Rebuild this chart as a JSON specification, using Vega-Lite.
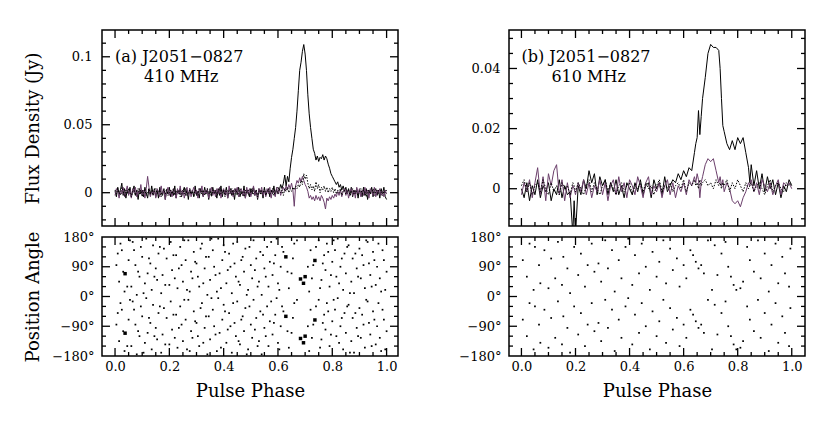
{
  "$schema": "https://vega.github.io/schema/vega-lite/v6.json",
  "background": "white",
  "padding": {"left": 23, "top": 28, "right": 10, "bottom": 10},
  "config": {
    "view": {"stroke": "black", "strokeWidth": 1.5},
    "axis": {
      "domain": false,
      "grid": false,
      "ticks": false,
      "labelFont": "DejaVu Serif",
      "labelFontSize": 13,
      "labelColor": "black",
      "titleFont": "DejaVu Serif",
      "titleFontSize": 18,
      "titleFontWeight": "normal",
      "titleColor": "black",
      "labelFlush": false,
      "labelOverlap": false
    }
  },
  "datasets": {
    "A": [
      {"p":0.000,"I":0.001,"L":-0.002,"V":0.002},{"p":0.005,"I":-0.003,"L":0.003,"V":-0.001},{"p":0.010,"I":0.004,"L":0.001,"V":0.003},{"p":0.015,"I":-0.001,"L":-0.004,"V":0.000},
      {"p":0.020,"I":0.002,"L":0.002,"V":-0.002},{"p":0.025,"I":0.007,"L":-0.001,"V":0.004},{"p":0.030,"I":-0.002,"L":0.004,"V":0.001},{"p":0.035,"I":0.003,"L":-0.003,"V":-0.002},
      {"p":0.040,"I":-0.004,"L":0.001,"V":0.002},{"p":0.045,"I":0.002,"L":0.005,"V":-0.001},{"p":0.050,"I":-0.001,"L":-0.002,"V":0.003},{"p":0.055,"I":0.004,"L":0.002,"V":0.000},
      {"p":0.060,"I":-0.003,"L":-0.004,"V":-0.003},{"p":0.065,"I":0.001,"L":0.003,"V":0.001},{"p":0.070,"I":0.005,"L":0.000,"V":0.002},{"p":0.075,"I":-0.002,"L":0.004,"V":-0.002},
      {"p":0.080,"I":0.002,"L":-0.003,"V":0.001},{"p":0.085,"I":-0.005,"L":0.001,"V":0.003},{"p":0.090,"I":0.003,"L":-0.001,"V":-0.001},{"p":0.095,"I":-0.001,"L":0.006,"V":0.002},
      {"p":0.100,"I":0.002,"L":-0.002,"V":-0.003},{"p":0.105,"I":-0.003,"L":0.002,"V":0.001},{"p":0.110,"I":0.004,"L":-0.004,"V":0.002},{"p":0.115,"I":0.000,"L":0.003,"V":-0.002},
      {"p":0.120,"I":-0.004,"L":0.012,"V":0.000},{"p":0.125,"I":0.003,"L":0.004,"V":0.003},{"p":0.130,"I":-0.002,"L":-0.003,"V":-0.001},{"p":0.135,"I":0.005,"L":0.001,"V":0.002},
      {"p":0.140,"I":-0.001,"L":-0.002,"V":-0.002},{"p":0.145,"I":0.003,"L":0.002,"V":0.001},{"p":0.150,"I":-0.003,"L":-0.004,"V":0.003},{"p":0.155,"I":0.002,"L":0.003,"V":-0.001},
      {"p":0.160,"I":-0.004,"L":0.001,"V":0.000},{"p":0.165,"I":0.004,"L":-0.003,"V":0.002},{"p":0.170,"I":0.000,"L":0.005,"V":-0.003},{"p":0.175,"I":-0.002,"L":-0.001,"V":0.001},
      {"p":0.180,"I":0.003,"L":0.002,"V":0.002},{"p":0.185,"I":-0.005,"L":-0.005,"V":-0.001},{"p":0.190,"I":0.002,"L":0.001,"V":0.003},{"p":0.195,"I":-0.001,"L":0.004,"V":-0.002},
      {"p":0.200,"I":0.004,"L":-0.002,"V":0.000},{"p":0.205,"I":-0.003,"L":0.002,"V":0.002},{"p":0.210,"I":0.001,"L":-0.003,"V":-0.001},{"p":0.215,"I":-0.002,"L":0.003,"V":0.003},
      {"p":0.220,"I":0.005,"L":0.000,"V":-0.002},{"p":0.225,"I":-0.004,"L":-0.004,"V":0.001},{"p":0.230,"I":0.002,"L":0.003,"V":0.000},{"p":0.235,"I":-0.001,"L":-0.001,"V":0.002},
      {"p":0.240,"I":0.003,"L":0.005,"V":-0.003},{"p":0.245,"I":-0.003,"L":-0.002,"V":0.001},{"p":0.250,"I":0.001,"L":0.002,"V":0.002},{"p":0.255,"I":0.004,"L":-0.004,"V":-0.001},
      {"p":0.260,"I":-0.002,"L":0.001,"V":0.003},{"p":0.265,"I":0.002,"L":0.004,"V":-0.002},{"p":0.270,"I":-0.005,"L":-0.002,"V":0.000},{"p":0.275,"I":0.003,"L":0.003,"V":0.002},
      {"p":0.280,"I":-0.001,"L":-0.003,"V":-0.001},{"p":0.285,"I":0.002,"L":0.001,"V":0.001},{"p":0.290,"I":-0.003,"L":0.004,"V":-0.003},{"p":0.295,"I":0.005,"L":-0.001,"V":0.002},
      {"p":0.300,"I":-0.002,"L":0.002,"V":0.000},{"p":0.305,"I":0.001,"L":-0.004,"V":-0.002},{"p":0.310,"I":-0.004,"L":0.003,"V":0.003},{"p":0.315,"I":0.003,"L":0.000,"V":0.001},
      {"p":0.320,"I":0.000,"L":0.005,"V":-0.001},{"p":0.325,"I":-0.003,"L":-0.003,"V":0.002},{"p":0.330,"I":0.004,"L":0.002,"V":-0.002},{"p":0.335,"I":-0.001,"L":-0.001,"V":0.000},
      {"p":0.340,"I":0.002,"L":0.003,"V":0.003},{"p":0.345,"I":-0.005,"L":-0.004,"V":-0.001},{"p":0.350,"I":0.003,"L":0.001,"V":0.001},{"p":0.355,"I":-0.002,"L":0.004,"V":-0.003},
      {"p":0.360,"I":0.004,"L":-0.002,"V":0.002},{"p":0.365,"I":-0.001,"L":0.002,"V":0.000},{"p":0.370,"I":0.001,"L":-0.003,"V":0.002},{"p":0.375,"I":-0.004,"L":0.003,"V":-0.002},
      {"p":0.380,"I":0.003,"L":-0.001,"V":0.001},{"p":0.385,"I":-0.002,"L":0.004,"V":0.003},{"p":0.390,"I":0.005,"L":-0.004,"V":-0.001},{"p":0.395,"I":-0.003,"L":0.001,"V":0.000},
      {"p":0.400,"I":0.002,"L":0.003,"V":0.002},{"p":0.405,"I":-0.001,"L":-0.002,"V":-0.003},{"p":0.410,"I":0.004,"L":0.002,"V":0.001},{"p":0.415,"I":-0.004,"L":-0.004,"V":0.002},
      {"p":0.420,"I":0.001,"L":0.005,"V":-0.001},{"p":0.425,"I":0.003,"L":-0.001,"V":0.000},{"p":0.430,"I":-0.002,"L":0.002,"V":0.003},{"p":0.435,"I":0.002,"L":-0.003,"V":-0.002},
      {"p":0.440,"I":-0.005,"L":0.003,"V":0.001},{"p":0.445,"I":0.003,"L":0.000,"V":0.002},{"p":0.450,"I":-0.001,"L":0.004,"V":-0.002},{"p":0.455,"I":0.004,"L":-0.003,"V":0.000},
      {"p":0.460,"I":-0.003,"L":0.001,"V":0.003},{"p":0.465,"I":0.001,"L":0.003,"V":-0.001},{"p":0.470,"I":-0.002,"L":-0.002,"V":0.001},{"p":0.475,"I":0.005,"L":0.002,"V":-0.003},
      {"p":0.480,"I":-0.004,"L":-0.004,"V":0.002},{"p":0.485,"I":0.002,"L":0.004,"V":0.000},{"p":0.490,"I":0.000,"L":-0.001,"V":0.002},{"p":0.495,"I":-0.003,"L":0.003,"V":-0.002},
      {"p":0.500,"I":0.003,"L":-0.003,"V":0.001},{"p":0.505,"I":-0.001,"L":0.001,"V":0.003},{"p":0.510,"I":0.004,"L":0.005,"V":-0.001},{"p":0.515,"I":-0.002,"L":-0.002,"V":0.000},
      {"p":0.520,"I":0.002,"L":0.002,"V":0.002},{"p":0.525,"I":-0.005,"L":-0.004,"V":-0.003},{"p":0.530,"I":0.003,"L":0.003,"V":0.001},{"p":0.535,"I":-0.001,"L":0.000,"V":0.002},
      {"p":0.540,"I":0.002,"L":0.004,"V":-0.001},{"p":0.545,"I":-0.004,"L":-0.002,"V":0.000},{"p":0.550,"I":0.004,"L":0.002,"V":0.003},{"p":0.555,"I":-0.002,"L":-0.003,"V":-0.002},
      {"p":0.560,"I":0.001,"L":0.003,"V":0.001},{"p":0.565,"I":0.003,"L":-0.001,"V":0.002},{"p":0.570,"I":-0.003,"L":0.004,"V":-0.001},{"p":0.575,"I":0.002,"L":-0.004,"V":0.000},
      {"p":0.580,"I":-0.001,"L":0.002,"V":0.003},{"p":0.585,"I":0.005,"L":0.001,"V":-0.002},{"p":0.590,"I":-0.002,"L":-0.003,"V":0.001},{"p":0.595,"I":0.003,"L":0.004,"V":0.002},
      {"p":0.600,"I":0.004,"L":-0.001,"V":-0.001},{"p":0.605,"I":0.002,"L":0.003,"V":0.003},{"p":0.610,"I":0.006,"L":-0.002,"V":0.000},{"p":0.615,"I":0.003,"L":0.002,"V":0.002},
      {"p":0.620,"I":0.007,"L":0.004,"V":-0.002},{"p":0.625,"I":0.013,"L":0.001,"V":0.003},{"p":0.630,"I":0.005,"L":0.005,"V":0.001},{"p":0.635,"I":0.012,"L":0.002,"V":0.004},
      {"p":0.640,"I":0.008,"L":0.006,"V":0.000},{"p":0.645,"I":0.018,"L":0.003,"V":0.003},{"p":0.650,"I":0.026,"L":0.007,"V":0.001},{"p":0.655,"I":0.032,"L":0.002,"V":0.004},
      {"p":0.660,"I":0.040,"L":-0.010,"V":0.002},{"p":0.665,"I":0.048,"L":0.005,"V":0.005},{"p":0.670,"I":0.060,"L":0.009,"V":0.003},{"p":0.675,"I":0.075,"L":0.007,"V":0.006},
      {"p":0.680,"I":0.090,"L":0.011,"V":0.004},{"p":0.685,"I":0.096,"L":0.008,"V":0.009},{"p":0.690,"I":0.104,"L":0.012,"V":0.006},{"p":0.695,"I":0.109,"L":0.009,"V":0.014},
      {"p":0.700,"I":0.102,"L":0.006,"V":0.010},{"p":0.705,"I":0.090,"L":0.004,"V":0.013},{"p":0.710,"I":0.072,"L":0.001,"V":0.007},{"p":0.715,"I":0.058,"L":-0.004,"V":0.003},
      {"p":0.720,"I":0.048,"L":-0.002,"V":0.006},{"p":0.725,"I":0.040,"L":-0.005,"V":0.002},{"p":0.730,"I":0.032,"L":-0.003,"V":0.005},{"p":0.735,"I":0.029,"L":-0.006,"V":0.001},
      {"p":0.740,"I":0.024,"L":-0.002,"V":0.008},{"p":0.745,"I":0.027,"L":-0.005,"V":0.003},{"p":0.750,"I":0.023,"L":-0.003,"V":0.006},{"p":0.755,"I":0.026,"L":-0.006,"V":0.000},
      {"p":0.760,"I":0.025,"L":-0.002,"V":0.004},{"p":0.765,"I":0.028,"L":-0.004,"V":0.002},{"p":0.770,"I":0.024,"L":-0.007,"V":0.005},{"p":0.775,"I":0.027,"L":-0.012,"V":0.001},
      {"p":0.780,"I":0.025,"L":-0.004,"V":0.004},{"p":0.785,"I":0.021,"L":-0.006,"V":0.000},{"p":0.790,"I":0.018,"L":-0.003,"V":0.003},{"p":0.795,"I":0.014,"L":-0.005,"V":0.001},
      {"p":0.800,"I":0.012,"L":-0.002,"V":0.004},{"p":0.805,"I":0.010,"L":-0.004,"V":0.000},{"p":0.810,"I":0.008,"L":-0.001,"V":0.003},{"p":0.815,"I":0.006,"L":-0.003,"V":-0.001},
      {"p":0.820,"I":0.008,"L":0.001,"V":0.002},{"p":0.825,"I":0.004,"L":-0.002,"V":0.000},{"p":0.830,"I":0.006,"L":0.002,"V":0.003},{"p":0.835,"I":0.002,"L":-0.003,"V":-0.002},
      {"p":0.840,"I":0.005,"L":0.001,"V":0.001},{"p":0.845,"I":0.001,"L":0.003,"V":0.002},{"p":0.850,"I":0.004,"L":-0.002,"V":-0.001},{"p":0.855,"I":-0.001,"L":0.002,"V":0.001},
      {"p":0.860,"I":0.003,"L":-0.004,"V":0.002},{"p":0.865,"I":-0.002,"L":0.001,"V":-0.002},{"p":0.870,"I":0.004,"L":0.003,"V":0.000},{"p":0.875,"I":-0.003,"L":-0.002,"V":0.003},
      {"p":0.880,"I":0.002,"L":0.002,"V":-0.001},{"p":0.885,"I":-0.001,"L":-0.004,"V":0.002},{"p":0.890,"I":0.003,"L":0.004,"V":0.000},{"p":0.895,"I":-0.004,"L":-0.001,"V":-0.002},
      {"p":0.900,"I":0.002,"L":0.003,"V":0.001},{"p":0.905,"I":0.000,"L":-0.003,"V":0.003},{"p":0.910,"I":-0.003,"L":0.002,"V":-0.001},{"p":0.915,"I":0.004,"L":-0.002,"V":0.002},
      {"p":0.920,"I":-0.002,"L":0.004,"V":0.000},{"p":0.925,"I":0.003,"L":-0.001,"V":-0.003},{"p":0.930,"I":-0.005,"L":0.002,"V":0.001},{"p":0.935,"I":0.002,"L":-0.004,"V":0.002},
      {"p":0.940,"I":-0.001,"L":0.003,"V":-0.001},{"p":0.945,"I":0.004,"L":0.001,"V":0.000},{"p":0.950,"I":-0.003,"L":-0.002,"V":0.003},{"p":0.955,"I":0.001,"L":0.004,"V":-0.002},
      {"p":0.960,"I":0.003,"L":-0.003,"V":0.001},{"p":0.965,"I":-0.002,"L":0.002,"V":0.002},{"p":0.970,"I":0.002,"L":-0.001,"V":-0.001},{"p":0.975,"I":-0.004,"L":0.003,"V":0.000},
      {"p":0.980,"I":0.003,"L":-0.002,"V":0.002},{"p":0.985,"I":-0.001,"L":0.001,"V":-0.002},{"p":0.990,"I":0.004,"L":-0.003,"V":0.001},{"p":0.995,"I":-0.003,"L":0.002,"V":0.000},
      {"p":1.000,"I":-0.005,"L":-0.001,"V":0.002}
    ],
    "B": [
      {"p":0.00,"I":0.000,"L":-0.002,"V":0.001},{"p":0.01,"I":-0.003,"L":0.002,"V":0.003},{"p":0.02,"I":0.002,"L":-0.001,"V":-0.001},{"p":0.03,"I":-0.004,"L":0.003,"V":0.002},
      {"p":0.04,"I":0.001,"L":-0.003,"V":-0.002},{"p":0.05,"I":-0.002,"L":0.002,"V":0.001},{"p":0.06,"I":0.003,"L":0.007,"V":0.002},{"p":0.07,"I":-0.003,"L":-0.002,"V":-0.001},
      {"p":0.08,"I":0.001,"L":0.004,"V":0.003},{"p":0.09,"I":-0.001,"L":-0.004,"V":0.000},{"p":0.10,"I":0.002,"L":0.005,"V":-0.002},{"p":0.11,"I":-0.004,"L":0.001,"V":0.002},
      {"p":0.12,"I":0.000,"L":0.006,"V":-0.001},{"p":0.13,"I":-0.002,"L":0.008,"V":0.001},{"p":0.14,"I":0.003,"L":-0.002,"V":-0.002},{"p":0.15,"I":-0.003,"L":0.003,"V":0.002},
      {"p":0.16,"I":0.001,"L":-0.004,"V":0.000},{"p":0.17,"I":-0.002,"L":0.002,"V":0.001},{"p":0.18,"I":-0.001,"L":-0.003,"V":-0.002},{"p":0.19,"I":-0.015,"L":0.001,"V":0.002},
      {"p":0.195,"I":-0.004,"L":0.000,"V":0.001},{"p":0.20,"I":-0.015,"L":-0.002,"V":-0.001},{"p":0.21,"I":0.001,"L":0.002,"V":0.002},{"p":0.22,"I":-0.002,"L":-0.001,"V":0.000},
      {"p":0.23,"I":0.003,"L":0.003,"V":-0.002},{"p":0.24,"I":0.000,"L":-0.002,"V":0.001},{"p":0.25,"I":0.006,"L":0.002,"V":0.003},{"p":0.26,"I":0.002,"L":-0.003,"V":-0.001},
      {"p":0.27,"I":0.005,"L":0.001,"V":0.002},{"p":0.28,"I":-0.002,"L":-0.001,"V":0.000},{"p":0.29,"I":0.004,"L":0.003,"V":-0.002},{"p":0.30,"I":0.001,"L":-0.002,"V":0.001},
      {"p":0.31,"I":0.003,"L":0.002,"V":0.003},{"p":0.32,"I":-0.002,"L":-0.004,"V":-0.001},{"p":0.33,"I":0.002,"L":0.001,"V":0.002},{"p":0.34,"I":-0.001,"L":0.003,"V":0.000},
      {"p":0.35,"I":0.003,"L":-0.002,"V":-0.002},{"p":0.36,"I":-0.002,"L":0.004,"V":0.001},{"p":0.37,"I":0.001,"L":-0.001,"V":0.002},{"p":0.38,"I":-0.003,"L":0.002,"V":-0.001},
      {"p":0.39,"I":0.002,"L":-0.003,"V":0.001},{"p":0.40,"I":0.000,"L":0.003,"V":0.002},{"p":0.41,"I":-0.002,"L":0.001,"V":-0.002},{"p":0.42,"I":0.002,"L":-0.002,"V":0.001},
      {"p":0.43,"I":-0.001,"L":0.004,"V":0.000},{"p":0.44,"I":0.003,"L":0.001,"V":0.002},{"p":0.45,"I":-0.002,"L":-0.003,"V":-0.001},{"p":0.46,"I":0.001,"L":0.002,"V":0.002},
      {"p":0.47,"I":0.002,"L":0.004,"V":0.000},{"p":0.48,"I":-0.003,"L":-0.002,"V":0.001},{"p":0.49,"I":0.003,"L":0.001,"V":-0.002},{"p":0.50,"I":0.000,"L":-0.001,"V":0.001},
      {"p":0.51,"I":0.002,"L":0.002,"V":0.003},{"p":0.52,"I":-0.002,"L":-0.003,"V":-0.001},{"p":0.53,"I":0.004,"L":0.001,"V":0.001},{"p":0.54,"I":-0.001,"L":0.003,"V":0.000},
      {"p":0.55,"I":0.001,"L":-0.002,"V":0.002},{"p":0.56,"I":0.003,"L":0.002,"V":-0.001},{"p":0.57,"I":0.002,"L":-0.003,"V":0.001},{"p":0.58,"I":0.005,"L":0.001,"V":0.002},
      {"p":0.59,"I":0.003,"L":-0.001,"V":0.000},{"p":0.60,"I":0.006,"L":0.002,"V":0.003},{"p":0.61,"I":0.004,"L":-0.002,"V":-0.001},{"p":0.62,"I":0.007,"L":0.003,"V":0.002},
      {"p":0.63,"I":0.006,"L":0.001,"V":0.001},{"p":0.64,"I":0.012,"L":0.004,"V":0.003},{"p":0.645,"I":0.015,"L":0.002,"V":0.001},{"p":0.65,"I":0.017,"L":0.005,"V":0.002},
      {"p":0.655,"I":0.026,"L":0.003,"V":0.000},{"p":0.66,"I":0.018,"L":-0.003,"V":0.003},{"p":0.665,"I":0.024,"L":0.002,"V":0.001},{"p":0.67,"I":0.030,"L":0.004,"V":0.002},
      {"p":0.68,"I":0.037,"L":0.008,"V":0.003},{"p":0.69,"I":0.045,"L":0.010,"V":0.001},{"p":0.70,"I":0.048,"L":0.009,"V":0.002},{"p":0.71,"I":0.047,"L":0.010,"V":0.000},
      {"p":0.72,"I":0.047,"L":0.006,"V":0.003},{"p":0.73,"I":0.046,"L":0.002,"V":0.001},{"p":0.735,"I":0.040,"L":0.004,"V":0.002},{"p":0.74,"I":0.030,"L":0.001,"V":0.000},
      {"p":0.745,"I":0.021,"L":0.003,"V":0.002},{"p":0.75,"I":0.019,"L":-0.001,"V":0.001},{"p":0.76,"I":0.015,"L":0.002,"V":0.003},{"p":0.77,"I":0.013,"L":0.000,"V":-0.001},
      {"p":0.78,"I":0.016,"L":-0.004,"V":0.002},{"p":0.79,"I":0.013,"L":-0.005,"V":0.000},{"p":0.80,"I":0.017,"L":-0.004,"V":0.003},{"p":0.81,"I":0.015,"L":-0.006,"V":0.001},
      {"p":0.82,"I":0.017,"L":-0.003,"V":-0.001},{"p":0.83,"I":0.012,"L":-0.001,"V":0.002},{"p":0.84,"I":0.007,"L":0.002,"V":0.000},{"p":0.845,"I":0.002,"L":0.001,"V":0.001},
      {"p":0.85,"I":0.008,"L":0.003,"V":0.002},{"p":0.86,"I":0.001,"L":-0.001,"V":-0.001},{"p":0.87,"I":0.006,"L":0.002,"V":0.001},{"p":0.88,"I":0.000,"L":-0.002,"V":0.002},
      {"p":0.89,"I":0.005,"L":0.003,"V":0.000},{"p":0.90,"I":-0.001,"L":0.001,"V":-0.002},{"p":0.91,"I":0.004,"L":-0.001,"V":0.001},{"p":0.92,"I":0.000,"L":0.002,"V":0.003},
      {"p":0.93,"I":0.003,"L":-0.002,"V":-0.001},{"p":0.94,"I":-0.002,"L":0.001,"V":0.001},{"p":0.95,"I":0.002,"L":0.003,"V":0.002},{"p":0.96,"I":-0.003,"L":-0.002,"V":0.000},
      {"p":0.97,"I":0.001,"L":0.002,"V":-0.001},{"p":0.98,"I":-0.001,"L":0.001,"V":0.002},{"p":0.99,"I":0.003,"L":0.002,"V":0.001},{"p":1.00,"I":0.001,"L":0.000,"V":0.002}
    ],
    "paA": [
      {"p":0.01,"pa":130,"pb":-50},{"p":0.015,"pa":45,"pb":-135},{"p":0.02,"pa":160,"pb":-20},{"p":0.03,"pa":75,"pb":-105},{"p":0.035,"pa":15,"pb":-165},
      {"p":0.05,"pa":110,"pb":-70},{"p":0.055,"pa":170,"pb":-10},{"p":0.06,"pa":30,"pb":-150},{"p":0.07,"pa":140,"pb":-40},{"p":0.075,"pa":95,"pb":-85},
      {"p":0.08,"pa":5,"pb":-175},{"p":0.09,"pa":60,"pb":-120},{"p":0.095,"pa":150,"pb":-30},{"p":0.1,"pa":120,"pb":-60},{"p":0.11,"pa":40,"pb":-140},
      {"p":0.115,"pa":175,"pb":-5},{"p":0.12,"pa":70,"pb":-110},{"p":0.13,"pa":100,"pb":-80},{"p":0.135,"pa":20,"pb":-160},{"p":0.14,"pa":155,"pb":-25},
      {"p":0.15,"pa":85,"pb":-95},{"p":0.155,"pa":50,"pb":-130},{"p":0.16,"pa":130,"pb":-50},{"p":0.17,"pa":10,"pb":-170},{"p":0.175,"pa":65,"pb":-115},
      {"p":0.18,"pa":145,"pb":-35},{"p":0.19,"pa":115,"pb":-65},{"p":0.2,"pa":35,"pb":-145},{"p":0.205,"pa":165,"pb":-15},{"p":0.21,"pa":80,"pb":-100},
      {"p":0.22,"pa":55,"pb":-125},{"p":0.225,"pa":125,"pb":-55},{"p":0.23,"pa":25,"pb":-155},{"p":0.24,"pa":150,"pb":-30},{"p":0.245,"pa":95,"pb":-85},
      {"p":0.25,"pa":45,"pb":-135},{"p":0.26,"pa":110,"pb":-70},{"p":0.27,"pa":170,"pb":-10},{"p":0.275,"pa":15,"pb":-165},{"p":0.28,"pa":75,"pb":-105},
      {"p":0.29,"pa":135,"pb":-45},{"p":0.3,"pa":100,"pb":-80},{"p":0.305,"pa":60,"pb":-120},{"p":0.31,"pa":30,"pb":-150},{"p":0.32,"pa":160,"pb":-20},
      {"p":0.33,"pa":85,"pb":-95},{"p":0.335,"pa":120,"pb":-60},{"p":0.34,"pa":5,"pb":-175},{"p":0.35,"pa":50,"pb":-130},{"p":0.36,"pa":140,"pb":-40},
      {"p":0.365,"pa":90,"pb":-90},{"p":0.37,"pa":65,"pb":-115},{"p":0.38,"pa":175,"pb":-5},{"p":0.39,"pa":25,"pb":-155},{"p":0.395,"pa":110,"pb":-70},
      {"p":0.4,"pa":155,"pb":-25},{"p":0.41,"pa":40,"pb":-140},{"p":0.415,"pa":80,"pb":-100},{"p":0.42,"pa":130,"pb":-50},{"p":0.43,"pa":10,"pb":-170},
      {"p":0.44,"pa":100,"pb":-80},{"p":0.445,"pa":60,"pb":-120},{"p":0.45,"pa":165,"pb":-15},{"p":0.46,"pa":35,"pb":-145},{"p":0.47,"pa":120,"pb":-60},
      {"p":0.475,"pa":75,"pb":-105},{"p":0.48,"pa":145,"pb":-35},{"p":0.49,"pa":20,"pb":-160},{"p":0.5,"pa":95,"pb":-85},{"p":0.505,"pa":55,"pb":-125},
      {"p":0.51,"pa":170,"pb":-10},{"p":0.52,"pa":115,"pb":-65},{"p":0.53,"pa":45,"pb":-135},{"p":0.535,"pa":135,"pb":-45},{"p":0.54,"pa":5,"pb":-175},
      {"p":0.55,"pa":85,"pb":-95},{"p":0.56,"pa":150,"pb":-30},{"p":0.565,"pa":30,"pb":-150},{"p":0.57,"pa":105,"pb":-75},{"p":0.58,"pa":65,"pb":-115},
      {"p":0.59,"pa":125,"pb":-55},{"p":0.595,"pa":175,"pb":-5},{"p":0.6,"pa":40,"pb":-140},{"p":0.61,"pa":90,"pb":-90},{"p":0.615,"pa":150,"pb":-30},
      {"p":0.64,"pa":25,"pb":-155},{"p":0.65,"pa":70,"pb":-110},{"p":0.66,"pa":160,"pb":-20},{"p":0.715,"pa":15,"pb":-165},{"p":0.72,"pa":140,"pb":-40},
      {"p":0.73,"pa":95,"pb":-85},{"p":0.75,"pa":170,"pb":-10},{"p":0.76,"pa":50,"pb":-130},{"p":0.77,"pa":125,"pb":-55},{"p":0.775,"pa":80,"pb":-100},
      {"p":0.78,"pa":160,"pb":-20},{"p":0.79,"pa":30,"pb":-150},{"p":0.8,"pa":105,"pb":-75},{"p":0.81,"pa":140,"pb":-40},{"p":0.815,"pa":60,"pb":-120},
      {"p":0.82,"pa":175,"pb":-5},{"p":0.83,"pa":90,"pb":-90},{"p":0.84,"pa":20,"pb":-160},{"p":0.845,"pa":130,"pb":-50},{"p":0.85,"pa":70,"pb":-110},
      {"p":0.86,"pa":155,"pb":-25},{"p":0.87,"pa":45,"pb":-135},{"p":0.875,"pa":115,"pb":-65},{"p":0.88,"pa":10,"pb":-170},{"p":0.89,"pa":85,"pb":-95},
      {"p":0.9,"pa":145,"pb":-35},{"p":0.905,"pa":55,"pb":-125},{"p":0.91,"pa":125,"pb":-55},{"p":0.92,"pa":25,"pb":-155},{"p":0.93,"pa":165,"pb":-15},
      {"p":0.935,"pa":100,"pb":-80},{"p":0.94,"pa":65,"pb":-115},{"p":0.95,"pa":135,"pb":-45},{"p":0.96,"pa":35,"pb":-145},{"p":0.965,"pa":90,"pb":-90},
      {"p":0.97,"pa":160,"pb":-20},{"p":0.98,"pa":15,"pb":-165},{"p":0.99,"pa":110,"pb":-70},{"p":1.0,"pa":75,"pb":-105},
      {"p":0.005,"pa":95,"pb":-85},{"p":0.025,"pa":140,"pb":-40},{"p":0.045,"pa":30,"pb":-150},{"p":0.065,"pa":165,"pb":-15},{"p":0.085,"pa":75,"pb":-105},
      {"p":0.105,"pa":10,"pb":-170},{"p":0.125,"pa":115,"pb":-65},{"p":0.145,"pa":60,"pb":-120},{"p":0.165,"pa":150,"pb":-30},{"p":0.185,"pa":35,"pb":-145},
      {"p":0.215,"pa":125,"pb":-55},{"p":0.235,"pa":85,"pb":-95},{"p":0.255,"pa":170,"pb":-10},{"p":0.265,"pa":20,"pb":-160},{"p":0.285,"pa":55,"pb":-125},
      {"p":0.295,"pa":105,"pb":-75},{"p":0.315,"pa":145,"pb":-35},{"p":0.325,"pa":40,"pb":-140},{"p":0.345,"pa":120,"pb":-60},{"p":0.355,"pa":175,"pb":-5},
      {"p":0.375,"pa":15,"pb":-165},{"p":0.385,"pa":70,"pb":-110},{"p":0.405,"pa":135,"pb":-45},{"p":0.425,"pa":90,"pb":-90},{"p":0.435,"pa":160,"pb":-20},
      {"p":0.455,"pa":45,"pb":-135},{"p":0.465,"pa":110,"pb":-70},{"p":0.485,"pa":5,"pb":-175},{"p":0.495,"pa":150,"pb":-30},{"p":0.515,"pa":80,"pb":-100},
      {"p":0.525,"pa":30,"pb":-150},{"p":0.545,"pa":125,"pb":-55},{"p":0.555,"pa":60,"pb":-120},{"p":0.575,"pa":165,"pb":-15},{"p":0.585,"pa":100,"pb":-80},
      {"p":0.605,"pa":20,"pb":-160},{"p":0.62,"pa":135,"pb":-45},{"p":0.635,"pa":75,"pb":-105},{"p":0.655,"pa":115,"pb":-65},{"p":0.67,"pa":170,"pb":-10},
      {"p":0.71,"pa":90,"pb":-90},{"p":0.725,"pa":55,"pb":-125},{"p":0.74,"pa":150,"pb":-30},{"p":0.755,"pa":25,"pb":-155},{"p":0.765,"pa":100,"pb":-80},
      {"p":0.785,"pa":135,"pb":-45},{"p":0.795,"pa":65,"pb":-115},{"p":0.805,"pa":170,"pb":-10},{"p":0.825,"pa":40,"pb":-140},{"p":0.835,"pa":115,"pb":-65},
      {"p":0.855,"pa":150,"pb":-30},{"p":0.865,"pa":10,"pb":-170},{"p":0.885,"pa":130,"pb":-50},{"p":0.895,"pa":60,"pb":-120},{"p":0.915,"pa":95,"pb":-85},
      {"p":0.925,"pa":170,"pb":-10},{"p":0.945,"pa":30,"pb":-150},{"p":0.955,"pa":110,"pb":-70},{"p":0.975,"pa":55,"pb":-125},{"p":0.985,"pa":140,"pb":-40},
      {"p":0.995,"pa":20,"pb":-160}
    ],
    "paAsig": [
      {"p":0.037,"pa":69,"pb":-111},{"p":0.629,"pa":120,"pb":-60},{"p":0.683,"pa":53,"pb":-127},
      {"p":0.694,"pa":40,"pb":-140},{"p":0.70,"pa":60,"pb":-120},{"p":0.736,"pa":109,"pb":-71}
    ],
    "paB": [
      {"p":0.005,"pa":110,"pb":-70},{"p":0.02,"pa":60,"pb":-120},{"p":0.03,"pa":160,"pb":-20},{"p":0.045,"pa":20,"pb":-160},{"p":0.05,"pa":150,"pb":-30},
      {"p":0.065,"pa":95,"pb":-85},{"p":0.07,"pa":40,"pb":-140},{"p":0.085,"pa":140,"pb":-40},{"p":0.1,"pa":25,"pb":-155},{"p":0.11,"pa":115,"pb":-65},
      {"p":0.125,"pa":55,"pb":-125},{"p":0.135,"pa":165,"pb":-15},{"p":0.15,"pa":35,"pb":-145},{"p":0.155,"pa":120,"pb":-60},{"p":0.17,"pa":85,"pb":-95},
      {"p":0.18,"pa":10,"pb":-170},{"p":0.195,"pa":150,"pb":-30},{"p":0.21,"pa":65,"pb":-115},{"p":0.22,"pa":130,"pb":-50},{"p":0.235,"pa":30,"pb":-150},
      {"p":0.245,"pa":95,"pb":-85},{"p":0.26,"pa":160,"pb":-20},{"p":0.27,"pa":75,"pb":-105},{"p":0.285,"pa":100,"pb":-80},{"p":0.295,"pa":45,"pb":-135},
      {"p":0.31,"pa":170,"pb":-10},{"p":0.32,"pa":85,"pb":-95},{"p":0.335,"pa":140,"pb":-40},{"p":0.345,"pa":15,"pb":-165},{"p":0.36,"pa":110,"pb":-70},
      {"p":0.37,"pa":55,"pb":-125},{"p":0.385,"pa":150,"pb":-30},{"p":0.395,"pa":175,"pb":-5},{"p":0.41,"pa":35,"pb":-145},{"p":0.42,"pa":125,"pb":-55},
      {"p":0.435,"pa":70,"pb":-110},{"p":0.445,"pa":160,"pb":-20},{"p":0.46,"pa":90,"pb":-90},{"p":0.475,"pa":20,"pb":-160},{"p":0.485,"pa":135,"pb":-45},
      {"p":0.5,"pa":60,"pb":-120},{"p":0.51,"pa":105,"pb":-75},{"p":0.525,"pa":170,"pb":-10},{"p":0.535,"pa":40,"pb":-140},{"p":0.55,"pa":145,"pb":-35},
      {"p":0.56,"pa":80,"pb":-100},{"p":0.575,"pa":115,"pb":-65},{"p":0.585,"pa":30,"pb":-150},{"p":0.6,"pa":95,"pb":-85},{"p":0.61,"pa":55,"pb":-125},
      {"p":0.625,"pa":140,"pb":-40},{"p":0.635,"pa":125,"pb":-55},{"p":0.645,"pa":105,"pb":-75},{"p":0.655,"pa":85,"pb":-95},{"p":0.665,"pa":95,"pb":-85},
      {"p":0.675,"pa":70,"pb":-110},{"p":0.69,"pa":170,"pb":-10},{"p":0.705,"pa":20,"pb":-160},{"p":0.715,"pa":155,"pb":-25},{"p":0.725,"pa":65,"pb":-115},
      {"p":0.74,"pa":130,"pb":-50},{"p":0.755,"pa":165,"pb":-15},{"p":0.765,"pa":90,"pb":-90},{"p":0.775,"pa":60,"pb":-120},{"p":0.785,"pa":35,"pb":-145},
      {"p":0.795,"pa":20,"pb":-160},{"p":0.81,"pa":25,"pb":-155},{"p":0.82,"pa":45,"pb":-135},{"p":0.835,"pa":150,"pb":-30},{"p":0.845,"pa":110,"pb":-70},
      {"p":0.86,"pa":75,"pb":-105},{"p":0.875,"pa":170,"pb":-10},{"p":0.885,"pa":55,"pb":-125},{"p":0.9,"pa":130,"pb":-50},{"p":0.915,"pa":15,"pb":-165},
      {"p":0.925,"pa":95,"pb":-85},{"p":0.94,"pa":160,"pb":-20},{"p":0.95,"pa":40,"pb":-140},{"p":0.965,"pa":120,"pb":-60},{"p":0.975,"pa":70,"pb":-110},
      {"p":0.99,"pa":30,"pb":-150},{"p":0.995,"pa":145,"pb":-35}
    ],
    "labA": [
      {"p":0.0,"f":0.1,"t":"(a) J2051−0827"},
      {"p":0.107,"f":0.085,"t":"410 MHz"}
    ],
    "labB": [
      {"p":0.0,"f":0.0439,"t":"(b) J2051−0827"},
      {"p":0.111,"f":0.0372,"t":"610 MHz"}
    ],
    "txMaj": [{"v":0},{"v":0.2},{"v":0.4},{"v":0.6},{"v":0.8},{"v":1}],
    "txMin": [{"v":0.05},{"v":0.1},{"v":0.15},{"v":0.25},{"v":0.3},{"v":0.35},{"v":0.45},{"v":0.5},{"v":0.55},{"v":0.65},{"v":0.7},{"v":0.75},{"v":0.85},{"v":0.9},{"v":0.95}],
    "tyAMaj": [{"v":0},{"v":0.05},{"v":0.1}],
    "tyAMin": [{"v":-0.02},{"v":-0.01},{"v":0.01},{"v":0.02},{"v":0.03},{"v":0.04},{"v":0.06},{"v":0.07},{"v":0.08},{"v":0.09},{"v":0.11}],
    "tyBMaj": [{"v":0},{"v":0.02},{"v":0.04}],
    "tyBMin": [{"v":-0.01},{"v":-0.005},{"v":0.005},{"v":0.01},{"v":0.015},{"v":0.025},{"v":0.03},{"v":0.035},{"v":0.045},{"v":0.05}],
    "tyPMaj": [{"v":-90},{"v":0},{"v":90}],
    "tyPMin": [{"v":-150},{"v":-120},{"v":-60},{"v":-30},{"v":30},{"v":60},{"v":120},{"v":150}]
  },
  "columns": 2,
  "bounds": "flush",
  "spacing": {"row": 11, "column": 111},
  "resolve": {"scale": {"x": "independent", "y": "independent"}},
  "concat": [
    {
      "width": 296,
      "height": 196,
      "resolve": {"axis": {"x": "independent", "y": "independent"}},
      "layer": [
        {
          "data": {"name": "A"},
          "mark": {"type": "line", "color": "black", "strokeWidth": 1, "clip": true},
          "encoding": {
            "x": {"field": "p", "type": "quantitative", "scale": {"domain": [-0.048, 1.042], "nice": false, "zero": false}, "axis": null},
            "y": {"field": "I", "type": "quantitative", "scale": {"domain": [-0.0245, 0.1197], "nice": false, "zero": false},
              "axis": {"orient": "left", "values": [0,0.05,0.1], "format": "~g", "labelPadding": 10,
                "title": "Flux Density (Jy)", "titleX": -64, "titleBaseline": "alphabetic"}}
          }
        },
        {
          "data": {"name": "A"},
          "mark": {"type": "line", "color": "#6b3f6b", "strokeWidth": 1, "clip": true},
          "encoding": {"x": {"field": "p", "type": "quantitative", "axis": null}, "y": {"field": "L", "type": "quantitative", "axis": null}}
        },
        {
          "data": {"name": "A"},
          "mark": {"type": "line", "color": "black", "strokeWidth": 1, "strokeDash": [1.5, 1.5], "clip": true},
          "encoding": {"x": {"field": "p", "type": "quantitative", "axis": null}, "y": {"field": "V", "type": "quantitative", "axis": null}}
        },
        {
          "data": {"name": "labA"},
          "mark": {"type": "text", "align": "left", "baseline": "middle", "font": "DejaVu Serif", "fontSize": 16, "color": "black"},
          "encoding": {"x": {"field": "p", "type": "quantitative", "axis": null}, "y": {"field": "f", "type": "quantitative", "axis": null}, "text": {"field": "t"}}
        },
        {"data": {"name": "txMaj"}, "mark": {"type": "rule", "color": "black", "strokeWidth": 1.3}, "encoding": {"x": {"field": "v", "type": "quantitative", "axis": null}, "y": {"datum": -0.0245, "axis": null}, "y2": {"datum": -0.0186}}},
        {"data": {"name": "txMin"}, "mark": {"type": "rule", "color": "black", "strokeWidth": 1.3}, "encoding": {"x": {"field": "v", "type": "quantitative", "axis": null}, "y": {"datum": -0.0245, "axis": null}, "y2": {"datum": -0.0216}}},
        {"data": {"name": "txMaj"}, "mark": {"type": "rule", "color": "black", "strokeWidth": 1.3}, "encoding": {"x": {"field": "v", "type": "quantitative", "axis": null}, "y": {"datum": 0.1197, "axis": null}, "y2": {"datum": 0.1138}}},
        {"data": {"name": "txMin"}, "mark": {"type": "rule", "color": "black", "strokeWidth": 1.3}, "encoding": {"x": {"field": "v", "type": "quantitative", "axis": null}, "y": {"datum": 0.1197, "axis": null}, "y2": {"datum": 0.1168}}},
        {"data": {"name": "tyAMaj"}, "mark": {"type": "rule", "color": "black", "strokeWidth": 1.3}, "encoding": {"y": {"field": "v", "type": "quantitative", "axis": null}, "x": {"datum": -0.048, "axis": null}, "x2": {"datum": -0.0186}}},
        {"data": {"name": "tyAMin"}, "mark": {"type": "rule", "color": "black", "strokeWidth": 1.3}, "encoding": {"y": {"field": "v", "type": "quantitative", "axis": null}, "x": {"datum": -0.048, "axis": null}, "x2": {"datum": -0.0333}}},
        {"data": {"name": "tyAMaj"}, "mark": {"type": "rule", "color": "black", "strokeWidth": 1.3}, "encoding": {"y": {"field": "v", "type": "quantitative", "axis": null}, "x": {"datum": 1.042, "axis": null}, "x2": {"datum": 1.0126}}},
        {"data": {"name": "tyAMin"}, "mark": {"type": "rule", "color": "black", "strokeWidth": 1.3}, "encoding": {"y": {"field": "v", "type": "quantitative", "axis": null}, "x": {"datum": 1.042, "axis": null}, "x2": {"datum": 1.0273}}}
      ]
    },
    {
      "width": 296,
      "height": 196,
      "resolve": {"axis": {"x": "independent", "y": "independent"}},
      "layer": [
        {
          "data": {"name": "B"},
          "mark": {"type": "line", "color": "black", "strokeWidth": 1, "clip": true},
          "encoding": {
            "x": {"field": "p", "type": "quantitative", "scale": {"domain": [-0.046, 1.049], "nice": false, "zero": false}, "axis": null},
            "y": {"field": "I", "type": "quantitative", "scale": {"domain": [-0.0124, 0.0528], "nice": false, "zero": false},
              "axis": {"orient": "left", "values": [0,0.02,0.04], "format": "~g", "labelPadding": 9, "title": null}}
          }
        },
        {
          "data": {"name": "B"},
          "mark": {"type": "line", "color": "#6b3f6b", "strokeWidth": 1, "clip": true},
          "encoding": {"x": {"field": "p", "type": "quantitative", "axis": null}, "y": {"field": "L", "type": "quantitative", "axis": null}}
        },
        {
          "data": {"name": "B"},
          "mark": {"type": "line", "color": "black", "strokeWidth": 1, "strokeDash": [1.5, 1.5], "clip": true},
          "encoding": {"x": {"field": "p", "type": "quantitative", "axis": null}, "y": {"field": "V", "type": "quantitative", "axis": null}}
        },
        {
          "data": {"name": "labB"},
          "mark": {"type": "text", "align": "left", "baseline": "middle", "font": "DejaVu Serif", "fontSize": 16, "color": "black"},
          "encoding": {"x": {"field": "p", "type": "quantitative", "axis": null}, "y": {"field": "f", "type": "quantitative", "axis": null}, "text": {"field": "t"}}
        },
        {"data": {"name": "txMaj"}, "mark": {"type": "rule", "color": "black", "strokeWidth": 1.3}, "encoding": {"x": {"field": "v", "type": "quantitative", "axis": null}, "y": {"datum": -0.0124, "axis": null}, "y2": {"datum": -0.00973}}},
        {"data": {"name": "txMin"}, "mark": {"type": "rule", "color": "black", "strokeWidth": 1.3}, "encoding": {"x": {"field": "v", "type": "quantitative", "axis": null}, "y": {"datum": -0.0124, "axis": null}, "y2": {"datum": -0.01107}}},
        {"data": {"name": "txMaj"}, "mark": {"type": "rule", "color": "black", "strokeWidth": 1.3}, "encoding": {"x": {"field": "v", "type": "quantitative", "axis": null}, "y": {"datum": 0.0528, "axis": null}, "y2": {"datum": 0.05013}}},
        {"data": {"name": "txMin"}, "mark": {"type": "rule", "color": "black", "strokeWidth": 1.3}, "encoding": {"x": {"field": "v", "type": "quantitative", "axis": null}, "y": {"datum": 0.0528, "axis": null}, "y2": {"datum": 0.05147}}},
        {"data": {"name": "tyBMaj"}, "mark": {"type": "rule", "color": "black", "strokeWidth": 1.3}, "encoding": {"y": {"field": "v", "type": "quantitative", "axis": null}, "x": {"datum": -0.046, "axis": null}, "x2": {"datum": -0.0164}}},
        {"data": {"name": "tyBMin"}, "mark": {"type": "rule", "color": "black", "strokeWidth": 1.3}, "encoding": {"y": {"field": "v", "type": "quantitative", "axis": null}, "x": {"datum": -0.046, "axis": null}, "x2": {"datum": -0.0312}}},
        {"data": {"name": "tyBMaj"}, "mark": {"type": "rule", "color": "black", "strokeWidth": 1.3}, "encoding": {"y": {"field": "v", "type": "quantitative", "axis": null}, "x": {"datum": 1.049, "axis": null}, "x2": {"datum": 1.0194}}},
        {"data": {"name": "tyBMin"}, "mark": {"type": "rule", "color": "black", "strokeWidth": 1.3}, "encoding": {"y": {"field": "v", "type": "quantitative", "axis": null}, "x": {"datum": 1.049, "axis": null}, "x2": {"datum": 1.0342}}}
      ]
    },
    {
      "width": 296,
      "height": 119,
      "resolve": {"axis": {"x": "independent", "y": "independent"}},
      "layer": [
        {
          "data": {"name": "paA"},
          "mark": {"type": "square", "color": "black", "size": 3, "opacity": 1},
          "encoding": {
            "x": {"field": "p", "type": "quantitative", "scale": {"domain": [-0.048, 1.042], "nice": false, "zero": false},
              "axis": {"orient": "bottom", "values": [0,0.2,0.4,0.6,0.8,1], "format": ".1f", "labelPadding": 4,
                "title": "Pulse Phase", "titleY": 40, "titleBaseline": "alphabetic"}},
            "y": {"field": "pa", "type": "quantitative", "scale": {"domain": [-180, 180], "nice": false, "zero": false},
              "axis": {"orient": "left", "values": [-180,-90,0,90,180], "labelPadding": 8,
                "labelExpr": "replace(datum.value + '°', '-', '−')",
                "title": "Position Angle", "titleX": -64, "titleBaseline": "alphabetic"}}
          }
        },
        {
          "data": {"name": "paA"},
          "mark": {"type": "square", "color": "black", "size": 3, "opacity": 1},
          "encoding": {"x": {"field": "p", "type": "quantitative", "axis": null}, "y": {"field": "pb", "type": "quantitative", "axis": null}}
        },
        {
          "data": {"name": "paAsig"},
          "mark": {"type": "square", "color": "black", "size": 12, "opacity": 1},
          "encoding": {"x": {"field": "p", "type": "quantitative", "axis": null}, "y": {"field": "pa", "type": "quantitative", "axis": null}}
        },
        {
          "data": {"name": "paAsig"},
          "mark": {"type": "square", "color": "black", "size": 12, "opacity": 1},
          "encoding": {"x": {"field": "p", "type": "quantitative", "axis": null}, "y": {"field": "pb", "type": "quantitative", "axis": null}}
        },
        {"data": {"name": "txMaj"}, "mark": {"type": "rule", "color": "black", "strokeWidth": 1.3}, "encoding": {"x": {"field": "v", "type": "quantitative", "axis": null}, "y": {"datum": -180, "axis": null}, "y2": {"datum": -155.8}}},
        {"data": {"name": "txMin"}, "mark": {"type": "rule", "color": "black", "strokeWidth": 1.3}, "encoding": {"x": {"field": "v", "type": "quantitative", "axis": null}, "y": {"datum": -180, "axis": null}, "y2": {"datum": -167.9}}},
        {"data": {"name": "txMaj"}, "mark": {"type": "rule", "color": "black", "strokeWidth": 1.3}, "encoding": {"x": {"field": "v", "type": "quantitative", "axis": null}, "y": {"datum": 180, "axis": null}, "y2": {"datum": 155.8}}},
        {"data": {"name": "txMin"}, "mark": {"type": "rule", "color": "black", "strokeWidth": 1.3}, "encoding": {"x": {"field": "v", "type": "quantitative", "axis": null}, "y": {"datum": 180, "axis": null}, "y2": {"datum": 167.9}}},
        {"data": {"name": "tyPMaj"}, "mark": {"type": "rule", "color": "black", "strokeWidth": 1.3}, "encoding": {"y": {"field": "v", "type": "quantitative", "axis": null}, "x": {"datum": -0.048, "axis": null}, "x2": {"datum": -0.0186}}},
        {"data": {"name": "tyPMin"}, "mark": {"type": "rule", "color": "black", "strokeWidth": 1.3}, "encoding": {"y": {"field": "v", "type": "quantitative", "axis": null}, "x": {"datum": -0.048, "axis": null}, "x2": {"datum": -0.0333}}},
        {"data": {"name": "tyPMaj"}, "mark": {"type": "rule", "color": "black", "strokeWidth": 1.3}, "encoding": {"y": {"field": "v", "type": "quantitative", "axis": null}, "x": {"datum": 1.042, "axis": null}, "x2": {"datum": 1.0126}}},
        {"data": {"name": "tyPMin"}, "mark": {"type": "rule", "color": "black", "strokeWidth": 1.3}, "encoding": {"y": {"field": "v", "type": "quantitative", "axis": null}, "x": {"datum": 1.042, "axis": null}, "x2": {"datum": 1.0273}}}
      ]
    },
    {
      "width": 296,
      "height": 119,
      "resolve": {"axis": {"x": "independent", "y": "independent"}},
      "layer": [
        {
          "data": {"name": "paB"},
          "mark": {"type": "square", "color": "black", "size": 3, "opacity": 1},
          "encoding": {
            "x": {"field": "p", "type": "quantitative", "scale": {"domain": [-0.046, 1.049], "nice": false, "zero": false},
              "axis": {"orient": "bottom", "values": [0,0.2,0.4,0.6,0.8,1], "format": ".1f", "labelPadding": 4,
                "title": "Pulse Phase", "titleY": 40, "titleBaseline": "alphabetic"}},
            "y": {"field": "pa", "type": "quantitative", "scale": {"domain": [-180, 180], "nice": false, "zero": false},
              "axis": {"orient": "left", "values": [-180,-90,0,90,180], "labelPadding": 8,
                "labelExpr": "replace(datum.value + '°', '-', '−')", "title": null}}
          }
        },
        {
          "data": {"name": "paB"},
          "mark": {"type": "square", "color": "black", "size": 3, "opacity": 1},
          "encoding": {"x": {"field": "p", "type": "quantitative", "axis": null}, "y": {"field": "pb", "type": "quantitative", "axis": null}}
        },
        {"data": {"name": "txMaj"}, "mark": {"type": "rule", "color": "black", "strokeWidth": 1.3}, "encoding": {"x": {"field": "v", "type": "quantitative", "axis": null}, "y": {"datum": -180, "axis": null}, "y2": {"datum": -155.8}}},
        {"data": {"name": "txMin"}, "mark": {"type": "rule", "color": "black", "strokeWidth": 1.3}, "encoding": {"x": {"field": "v", "type": "quantitative", "axis": null}, "y": {"datum": -180, "axis": null}, "y2": {"datum": -167.9}}},
        {"data": {"name": "txMaj"}, "mark": {"type": "rule", "color": "black", "strokeWidth": 1.3}, "encoding": {"x": {"field": "v", "type": "quantitative", "axis": null}, "y": {"datum": 180, "axis": null}, "y2": {"datum": 155.8}}},
        {"data": {"name": "txMin"}, "mark": {"type": "rule", "color": "black", "strokeWidth": 1.3}, "encoding": {"x": {"field": "v", "type": "quantitative", "axis": null}, "y": {"datum": 180, "axis": null}, "y2": {"datum": 167.9}}},
        {"data": {"name": "tyPMaj"}, "mark": {"type": "rule", "color": "black", "strokeWidth": 1.3}, "encoding": {"y": {"field": "v", "type": "quantitative", "axis": null}, "x": {"datum": -0.046, "axis": null}, "x2": {"datum": -0.0164}}},
        {"data": {"name": "tyPMin"}, "mark": {"type": "rule", "color": "black", "strokeWidth": 1.3}, "encoding": {"y": {"field": "v", "type": "quantitative", "axis": null}, "x": {"datum": -0.046, "axis": null}, "x2": {"datum": -0.0312}}},
        {"data": {"name": "tyPMaj"}, "mark": {"type": "rule", "color": "black", "strokeWidth": 1.3}, "encoding": {"y": {"field": "v", "type": "quantitative", "axis": null}, "x": {"datum": 1.049, "axis": null}, "x2": {"datum": 1.0194}}},
        {"data": {"name": "tyPMin"}, "mark": {"type": "rule", "color": "black", "strokeWidth": 1.3}, "encoding": {"y": {"field": "v", "type": "quantitative", "axis": null}, "x": {"datum": 1.049, "axis": null}, "x2": {"datum": 1.0342}}}
      ]
    }
  ]
}
